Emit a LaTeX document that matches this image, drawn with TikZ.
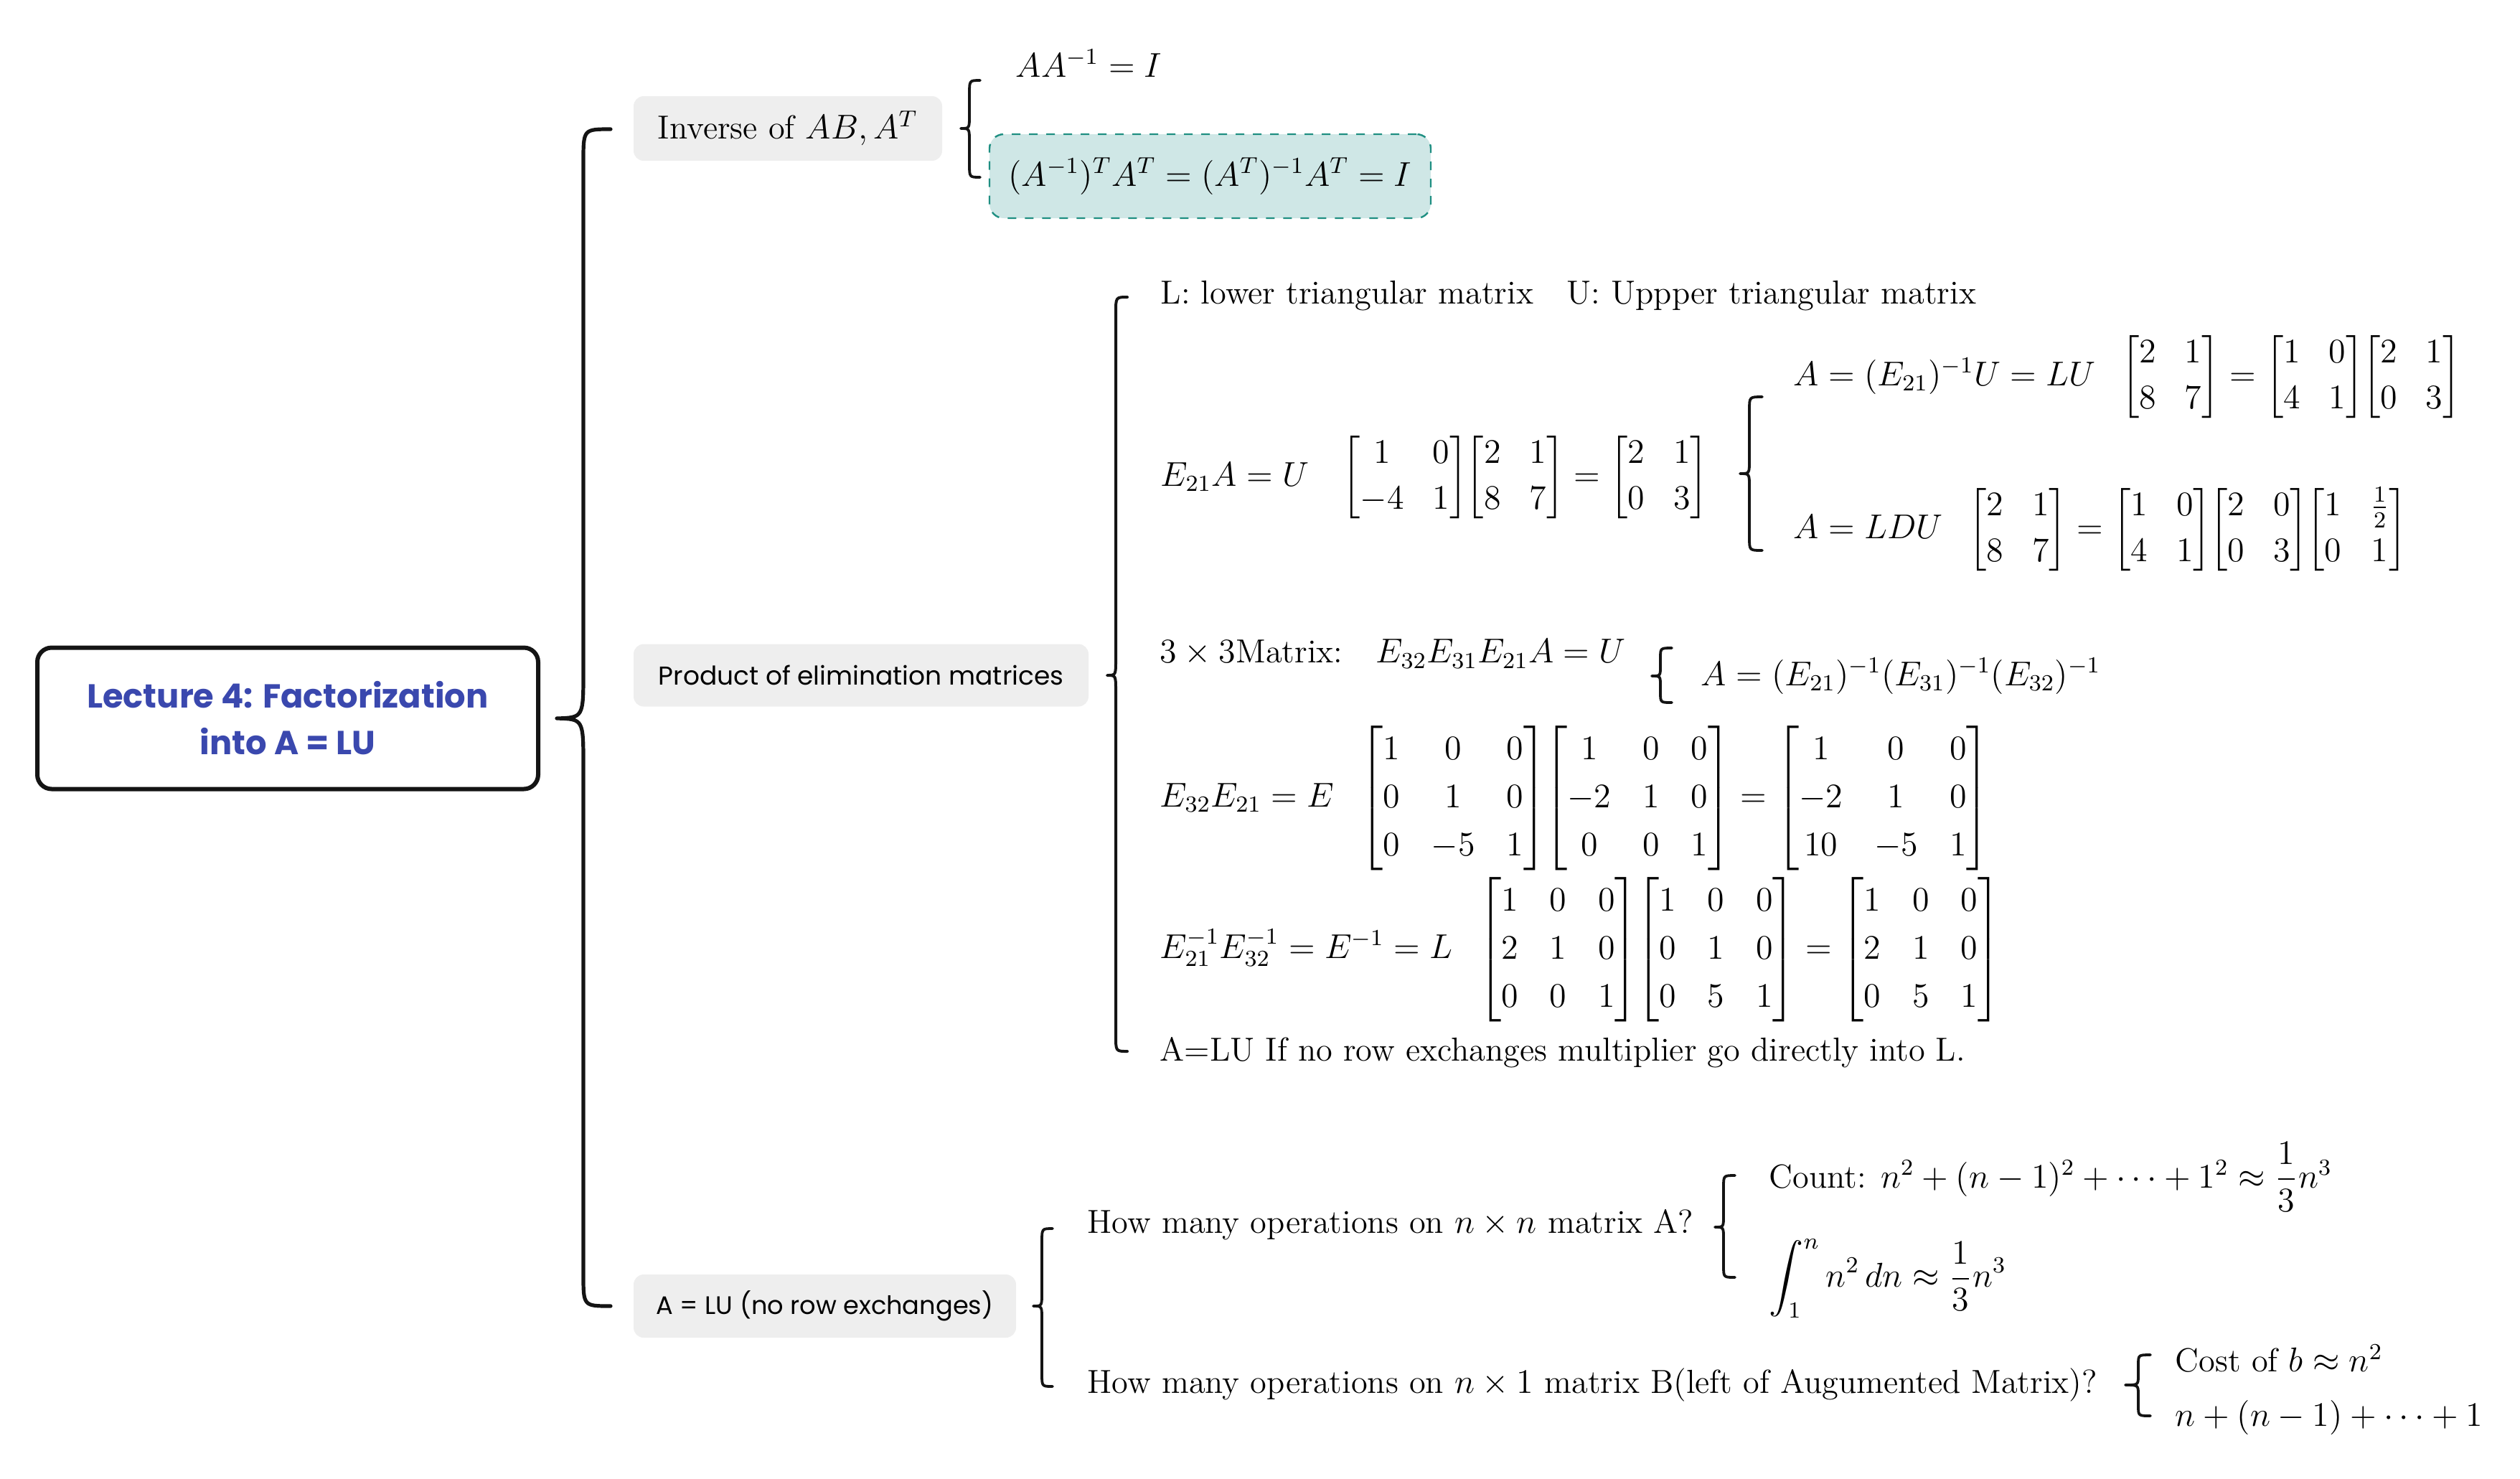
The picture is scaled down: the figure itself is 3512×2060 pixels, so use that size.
\documentclass[tikz,border=0pt]{standalone}
\usepackage{amsmath}
\usepackage{fontspec}
\newfontfamily\popp{Poppins}
\definecolor{rootblue}{HTML}{3A48AE}
\definecolor{grayfill}{HTML}{EEEEEE}
\definecolor{tealfill}{HTML}{CFE7E6}
\definecolor{tealline}{HTML}{1F8F82}
\newcommand\mfs{\fontsize{11.6}{14}\selectfont}
\setlength{\arraycolsep}{5pt}
\newcommand\mm{\mskip-1mu}
\newcommand\gap{\hspace{9pt}}
\newcommand\mtwo[1]{{\renewcommand{\arraystretch}{1.14}\begin{bmatrix}#1\end{bmatrix}}}
\newcommand\mthree[1]{{\renewcommand{\arraystretch}{1.2}\setlength{\arraycolsep}{5.5pt}\begin{bmatrix}#1\end{bmatrix}}}
% brace: [style]{endx}{vx}{tipx}{top}{tip}{bot}{r}
\newcommand\brc[8][]{%
  \draw[bracestyle,#1] (#2,#5) .. controls (#3,#5) .. (#3,#5+#8) -- (#3,#6-#8)
    .. controls (#3,#6) .. (#4,#6) .. controls (#3,#6) .. (#3,#6+#8)
    -- (#3,#7-#8) .. controls (#3,#7) .. (#2,#7);}
\begin{document}
\begin{tikzpicture}[x=0.25pt,y=-0.25pt,
  bracestyle/.style={draw=black!92, line width=0.95pt, line cap=round, line join=round},
  rootbox/.style={draw=black!92, line width=1.5pt, rounded corners=5pt, fill=white,
    minimum width=174.5pt, minimum height=49.25pt, align=center, text=rootblue,
    font=\popp\bfseries\fontsize{11.6}{16.25}\selectfont},
  graybox/.style={fill=grayfill, rounded corners=3.5pt, inner sep=0pt},
  tealbox/.style={fill=tealfill, draw=tealline, dashed, line width=0.6pt, rounded corners=5pt,
    minimum width=153.75pt, minimum height=29.25pt, font=\mfs},
  txt/.style={anchor=west, inner sep=0pt, font=\mfs},
]
\useasboundingbox (0,0) rectangle (3512,2060);

% root
\node[rootbox] (root) at (401,1001) {Lecture 4: Factorization\\into A = LU};

% level 1
\node[graybox, minimum width=107.5pt, minimum height=22.5pt, font=\mfs] (inv) at (1098,179) {Inverse of $AB, A^T$};
\node[graybox, minimum width=158.5pt, minimum height=21.75pt, font=\popp\fontsize{9}{10}\selectfont] (prod) at (1200,941) {Product of elimination matrices};
\node[graybox, minimum width=133.25pt, minimum height=22pt, font=\popp\fontsize{8.8}{10}\selectfont] (alu) at (1149.5,1820) {A = LU (no row exchanges)};

% main brace
\draw[bracestyle, line width=1.3pt] (851,180) .. controls (813,180) .. (813,225) -- (813,935)
  .. controls (813,1000) .. (776,1001) .. controls (813,1002) .. (813,1067)
  -- (813,1776) .. controls (813,1820) .. (851,1820);

% inverse children
\node[txt] (aai) at (1415,88) {$AA^{-1} = I$};
\node[tealbox] (tinv) at (1686.5,245.5) {$(A^{-1})^TA^T = (A^T)^{-1}A^T = I$};
\brc{1366}{1351}{1339}{112}{179}{247}{18}

% product children
\brc[line width=1pt]{1571}{1555}{1543}{414}{941}{1465}{22}
\node[txt] (lu) at (1617,412) {L: lower triangular matrix\quad U: Uppper triangular matrix};
\node[txt] (e21) at (1617,665) {$E_{21}A = U\quad \mtwo{1&0\\-4&1}\mm\mtwo{2&1\\8&7} = \mtwo{2&1\\0&3}$};
\brc{2456}{2438}{2425}{553}{660}{767}{18}
\node[txt] (ainv) at (2499,525) {$A = (E_{21})^{-1}U = LU\gap \mtwo{2&1\\8&7} = \mtwo{1&0\\4&1}\mm\mtwo{2&1\\0&3}$};
\node[txt] (aldu) at (2499,738) {$A = LDU\gap \mtwo{2&1\\8&7} = \mtwo{1&0\\4&1}\mm\mtwo{2&0\\0&3}\mm\mtwo{1&\frac{1}{2}\\0&1}$};
\node[txt] (three) at (1616,911) {$3\times 3$Matrix:\quad $E_{32}E_{31}E_{21}A = U$};
\brc{2330}{2314}{2302}{903}{942}{979}{14}
\node[txt] (aeee) at (2370,942) {$A = (E_{21})^{-1}(E_{31})^{-1}(E_{32})^{-1}$};
\node[txt] (e32) at (1616,1112) {$E_{32}E_{21} = E\gap \mthree{1&0&0\\0&1&0\\0&-5&1}\mm\mthree{1&0&0\\-2&1&0\\0&0&1} = \mthree{1&0&0\\-2&1&0\\10&-5&1}$};
\node[txt] (einv) at (1616,1323) {$E_{21}^{-1}E_{32}^{-1} = E^{-1} = L\gap \mthree{1&0&0\\2&1&0\\0&0&1}\mm\mthree{1&0&0\\0&1&0\\0&5&1} = \mthree{1&0&0\\2&1&0\\0&5&1}$};
\node[txt] (alul) at (1616,1467) {A=LU If no row exchanges multiplier go directly into L.};

% A = LU children
\brc{1467}{1452}{1440}{1712}{1820}{1932}{18}
\node[txt] (opa) at (1515,1707) {How many operations on $n\times n$ matrix A?};
\brc{2418}{2402}{2390}{1638}{1710}{1780}{16}
\node[txt] (cnt) at (2465,1640) {Count: $n^2+(n-1)^2+\cdots+1^2\approx\dfrac{1}{3}n^3$};
\node[txt] (intg) at (2465,1782) {$\displaystyle\int_1^n n^2\,dn\approx\frac{1}{3}n^3$};
\node[txt] (opb) at (1515,1930) {How many operations on $n\times 1$ matrix B(left of Augumented Matrix)?};
\brc{2997}{2980}{2962}{1888}{1930}{1973}{14}
\node[txt] (cost) at (3031,1893) {Cost of $b\approx n^2$};
\node[txt] (nsum) at (3031,1975) {$n+(n-1)+\cdots+1$};
\end{tikzpicture}
\end{document}
